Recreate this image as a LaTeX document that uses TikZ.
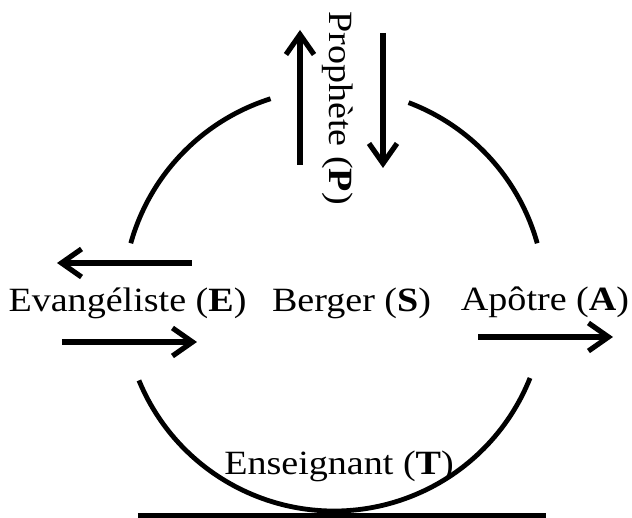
\documentclass[tikz,border=0pt]{standalone}
\usepackage{fontspec}
\setmainfont{Liberation Serif}[FakeStretch=1.12]
\usetikzlibrary{arrows.meta}

\begin{document}
\begin{tikzpicture}[x=0.5pt, y=0.5pt,
ring/.style={line width=2.4pt},
flow/.style={line width=2.6pt, -{Straight Barb[length=10pt,width=14pt]}},
ground/.style={line width=2.6pt},
role/.style={draw=none, fill=none, inner sep=0pt, anchor=base, font=\fontsize{17}{20}\selectfont}]

%% local variables
\def \R {105.5pt}

\useasboundingbox (-334,-218) rectangle (298,300);

%% broken ring, centred on the shepherd
\draw[ring] (164.4:\R) arc[start angle=164.4, end angle=107.5, radius=\R];
\draw[ring] (69.3:\R) arc[start angle=69.3, end angle=15.6, radius=\R];
\draw[ring] (202.4:\R) arc[start angle=202.4, end angle=338.3, radius=\R];

%% place the five roles
\node[role] (S) at (17.5,-12) {Berger (\textbf{S})};
\node[role] (E) at (-206.5,-12) {Evangéliste (\textbf{E})};
\node[role] (A) at (211,-11) {Apôtre (\textbf{A})};
\node[role] (T) at (5,-175) {Enseignant (\textbf{T})};
\node[role, anchor=center, rotate=-90] (P) at (4,192) {Prophète (\textbf{P})};

%% ground line under the teacher
\coordinate (G-1) at (-196,-216);
\coordinate (G-2) at (212,-216);
\draw[ground] (G-1) -- (G-2);

%% arrow end points
\coordinate (P-1) at (-34,135);
\coordinate (P-2) at (-34,270);
\coordinate (P-3) at (49,267);
\coordinate (P-4) at (49,132);
\coordinate (E-1) at (-142,37);
\coordinate (E-2) at (-277,37);
\coordinate (E-3) at (-272,-42);
\coordinate (E-4) at (-137,-42);
\coordinate (A-1) at (144,-37);
\coordinate (A-2) at (279,-37);

%% place all arrows
\foreach \a/\b in {P-1/P-2, P-3/P-4, E-1/E-2, E-3/E-4, A-1/A-2}
      \draw[flow] (\a) -- (\b);

\end{tikzpicture}
\end{document}
